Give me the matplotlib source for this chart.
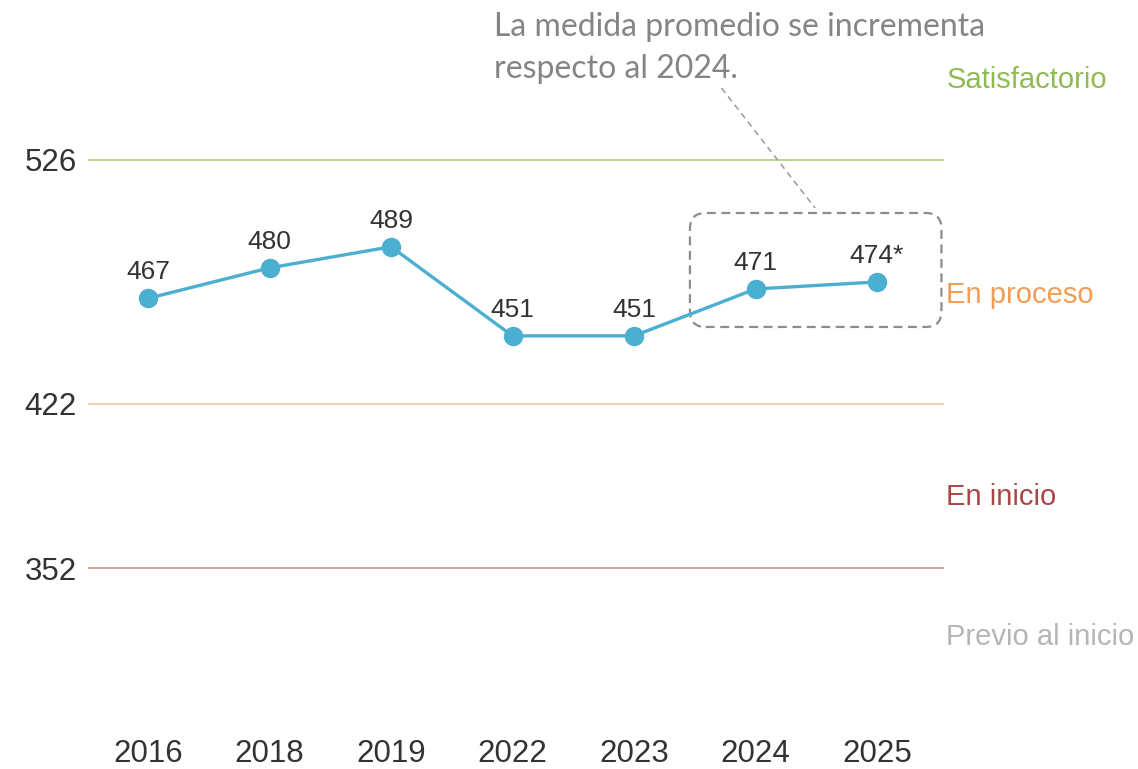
import matplotlib
matplotlib.use("Agg")
from matplotlib import pyplot as plt
from matplotlib.patches import FancyBboxPatch
import numpy as np

years = ["2016", "2018", "2019", "2022", "2023", "2024", "2025"]
scores = [467, 480, 489, 451, 451, 471, 474]
score_labels = ["467", "480", "489", "451", "451", "471", "474*"]
cut_points = [526, 422, 352]
cut_colors = ["#b3cf8a", "#f5cda8", "#d29a9a"]
levels = ["Satisfactorio", "En proceso", "En inicio", "Previo al inicio"]
level_mid = [560, 468.5, 382.3, 322.6]
level_colors = ["#8fbb52", "#f29d55", "#a94646", "#b5b5b5"]
note_lines = ["La medida promedio se incrementa", "respecto al 2024."]
note_base = [578.9, 561.0]

plt.rcParams['font.family'] = ['Liberation Sans', 'DejaVu Sans']

fig = plt.figure(figsize=(11.38, 7.69), dpi=100)
ax = fig.add_axes([88/1138, 69/769, 856/1138, 600/769])
ax.set_xlim(-0.494, 6.551)
ax.set_ylim(295.73, 551.58)
for s in ax.spines.values():
    s.set_visible(False)

x = np.arange(len(years))

# lineas de corte de niveles
for c, col in zip(cut_points, cut_colors):
    ax.axhline(c, color=col, lw=1.3, zorder=1)

ax.plot(x, scores, color="#4bafd1", lw=2.4, marker="o", markersize=13, zorder=3)
for xi, yi, lab in zip(x, scores, score_labels):
    ax.annotate(lab, (xi, yi), xytext=(0, 10), textcoords="offset points",
                ha="center", va="bottom", fontsize=19, color="#333333")

ax.set_yticks(cut_points)
ax.set_yticklabels([str(c) for c in cut_points], fontsize=22.5, color="#333333")
ax.set_xticks(x)
ax.set_xticklabels(years, fontsize=22.5, color="#333333")
ax.tick_params(axis="y", length=0, pad=8)
ax.tick_params(axis="x", length=0, pad=28)

# nombres de niveles a la derecha
for lab, ym, col in zip(levels, level_mid, level_colors):
    ax.text(6.57, ym, lab, ha="left", va="center", fontsize=21, color=col)

# recuadro alrededor de 2024-2025
box = FancyBboxPatch((x[5] - 0.54, 454.8), 2.07, 48.6,
                     boxstyle="round,pad=0,rounding_size=0.13",
                     mutation_aspect=51.8, fill=False, ec="#8c8c8c",
                     lw=1.6, ls=(0, (4, 2.5)), zorder=2)
ax.add_patch(box)
ax.plot([4.72, 5.49], [556.7, 505.5], color="#999999", lw=1.1,
        ls=(0, (4, 3)), clip_on=False)

for line, yb in zip(note_lines, note_base):
    ax.text(2.85, yb, line, ha="left", va="baseline", fontsize=23,
            color="#858585", family=["Lato", "DejaVu Sans"])

fig.savefig("out.png", dpi=100)
